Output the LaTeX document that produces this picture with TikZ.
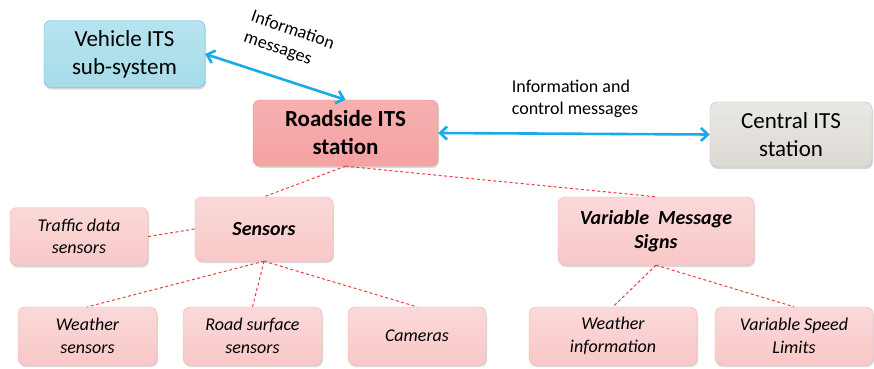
\documentclass[tikz,border=0pt]{standalone}
\usepackage{fontspec}
\setmainfont{Carlito}
\usetikzlibrary{arrows.meta,shadows}
\definecolor{vehFill}{HTML}{A6DCEA}
\definecolor{vehLine}{HTML}{55B6E0}
\definecolor{rsuFill}{HTML}{F5A2A2}
\definecolor{rsuLine}{HTML}{E88C8C}
\definecolor{cenFill}{HTML}{DCD9D3}
\definecolor{cenLine}{HTML}{BEBAB3}
\definecolor{pinkFill}{HTML}{F9C8C8}
\definecolor{pinkLine}{HTML}{F0B2B2}
\definecolor{arrowBlue}{HTML}{18ABE7}
\definecolor{dashRed}{HTML}{EC3C3C}
\begin{document}
\begin{tikzpicture}[x=1pt, y=1pt,
    box/.style={draw, rounded corners=7pt, align=center, inner sep=2pt, text=black,
        drop shadow={opacity=0.3, shadow xshift=1pt, shadow yshift=-2pt}},
    mainbox/.style={box, font=\fontsize{23}{28}\selectfont},
    subbox/.style={box, draw=pinkLine, top color=pinkFill!70, bottom color=pinkFill,
        minimum height=58pt, font=\fontsize{18}{22.5}\selectfont\itshape},
    headbox/.style={subbox, font=\fontsize{20}{24}\selectfont\bfseries\itshape},
    link/.style={draw=arrowBlue, line width=2.6pt,
        {Straight Barb[length=7pt,width=13pt]}-{Straight Barb[length=7pt,width=13pt]}},
    tie/.style={draw=dashRed, line width=1pt, dash pattern=on 3pt off 2.5pt},
    msg/.style={font=\fontsize{18}{22}\selectfont, align=left, inner sep=0pt}]
    \useasboundingbox (0,0) rectangle (874,368);

    % --- Top level stations ---
    \node[mainbox, draw=vehLine, top color=vehFill!80, bottom color=vehFill,
        minimum width=161pt, minimum height=67pt] (vehicle) at (124.5,314) {Vehicle ITS\\sub-system};
    \node[mainbox, draw=rsuLine, top color=rsuFill!85, bottom color=rsuFill,
        minimum width=185pt, minimum height=66pt, font=\fontsize{23}{28}\selectfont\bfseries] (roadside) at (345.5,235) {Roadside ITS\\station};
    \node[mainbox, draw=cenLine, top color=cenFill!60, bottom color=cenFill,
        minimum width=162pt, minimum height=65pt] (central) at (791,233.5) {Central ITS\\station};
    % ---

    % --- Messages between stations ---
    \draw[link] (vehicle.east) -- (roadside.north);
    \draw[link] (roadside.east) -- (central.west);
    \node[msg, rotate=-19] (msgVeh) at (289,327) {Information\\messages};
    \node[msg] (msgCen) at (575,269) {Information and\\control messages};
    % ---

    % --- Sensors branch ---
    \node[headbox, minimum width=138pt, minimum height=64pt] (sensors) at (264,139) {Sensors};
    \node[subbox, minimum width=138pt] (traffic) at (79,131.5) {Traffic data\\sensors};
    \node[subbox, minimum width=139pt] (wsens) at (87.5,32) {Weather\\sensors};
    \node[subbox, minimum width=139pt] (road) at (252.5,32) {Road surface\\sensors};
    \node[subbox, minimum width=138pt] (cam) at (417,32) {Cameras};
    % ---

    % --- Variable message signs branch ---
    \node[headbox, minimum width=196pt, minimum height=68pt] (vms) at (656,137) {Variable\ \ Message\\Signs};
    \node[subbox, minimum width=168pt] (winfo) at (613,32) {Weather\\information};
    \node[subbox, minimum width=158pt] (vsl) at (794,32) {Variable Speed\\Limits};
    % ---

    % --- Dashed ties ---
    \draw[tie] (roadside.south) -- (sensors.north);
    \draw[tie] (roadside.south) -- (vms.north);
    \draw[tie] (traffic.east) -- (sensors.west);
    \foreach \leaf in {wsens, road, cam}
        \draw[tie] (sensors.south) -- (\leaf.north);
    \foreach \leaf in {winfo, vsl}
        \draw[tie] (vms.south) -- (\leaf.north);
    % ---
\end{tikzpicture}
\end{document}
